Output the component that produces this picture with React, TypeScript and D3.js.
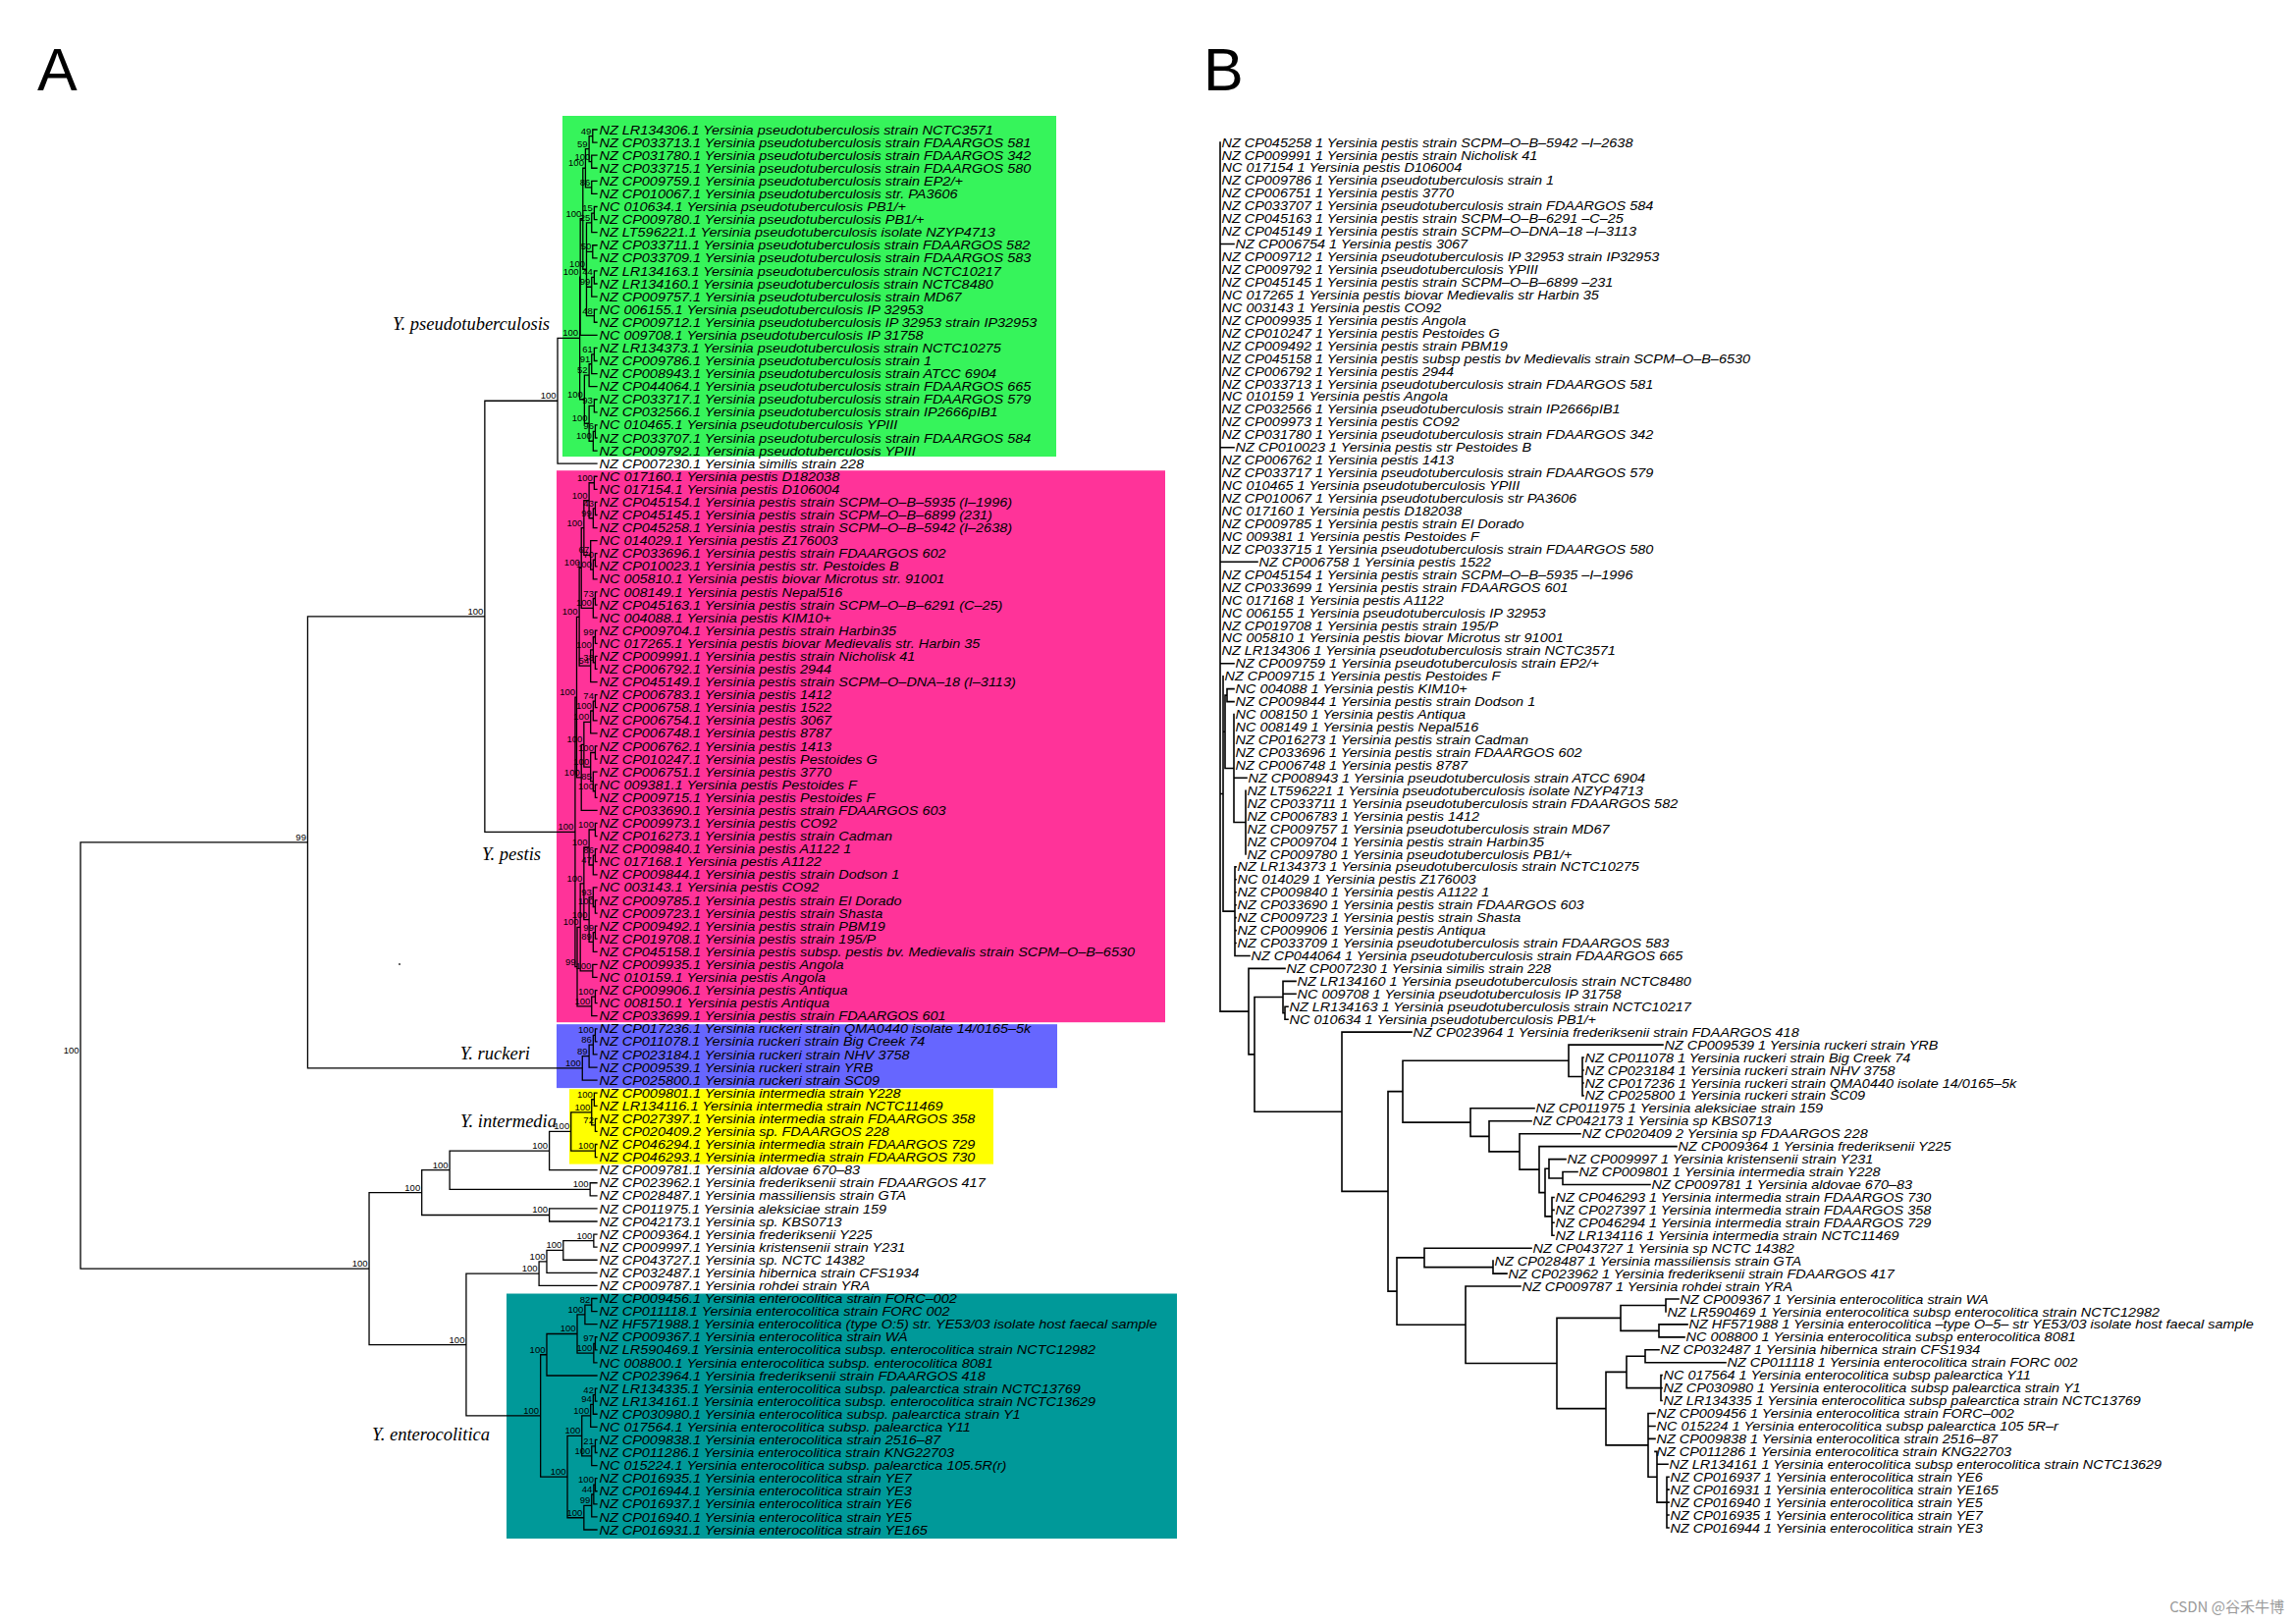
import React, { useMemo } from 'react';
import * as d3 from 'd3';

// ---------------- DATA ----------------
const LEAVES_A: string[] = [
  'NZ LR134306.1 Yersinia pseudotuberculosis strain NCTC3571',
  'NZ CP033713.1 Yersinia pseudotuberculosis strain FDAARGOS 581',
  'NZ CP031780.1 Yersinia pseudotuberculosis strain FDAARGOS 342',
  'NZ CP033715.1 Yersinia pseudotuberculosis strain FDAARGOS 580',
  'NZ CP009759.1 Yersinia pseudotuberculosis strain EP2/+',
  'NZ CP010067.1 Yersinia pseudotuberculosis str. PA3606',
  'NC 010634.1 Yersinia pseudotuberculosis PB1/+',
  'NZ CP009780.1 Yersinia pseudotuberculosis PB1/+',
  'NZ LT596221.1 Yersinia pseudotuberculosis isolate NZYP4713',
  'NZ CP033711.1 Yersinia pseudotuberculosis strain FDAARGOS 582',
  'NZ CP033709.1 Yersinia pseudotuberculosis strain FDAARGOS 583',
  'NZ LR134163.1 Yersinia pseudotuberculosis strain NCTC10217',
  'NZ LR134160.1 Yersinia pseudotuberculosis strain NCTC8480',
  'NZ CP009757.1 Yersinia pseudotuberculosis strain MD67',
  'NC 006155.1 Yersinia pseudotuberculosis IP 32953',
  'NZ CP009712.1 Yersinia pseudotuberculosis IP 32953 strain IP32953',
  'NC 009708.1 Yersinia pseudotuberculosis IP 31758',
  'NZ LR134373.1 Yersinia pseudotuberculosis strain NCTC10275',
  'NZ CP009786.1 Yersinia pseudotuberculosis strain 1',
  'NZ CP008943.1 Yersinia pseudotuberculosis strain ATCC 6904',
  'NZ CP044064.1 Yersinia pseudotuberculosis strain FDAARGOS 665',
  'NZ CP033717.1 Yersinia pseudotuberculosis strain FDAARGOS 579',
  'NZ CP032566.1 Yersinia pseudotuberculosis strain IP2666pIB1',
  'NC 010465.1 Yersinia pseudotuberculosis YPIII',
  'NZ CP033707.1 Yersinia pseudotuberculosis strain FDAARGOS 584',
  'NZ CP009792.1 Yersinia pseudotuberculosis YPIII',
  'NZ CP007230.1 Yersinia similis strain 228',
  'NC 017160.1 Yersinia pestis D182038',
  'NC 017154.1 Yersinia pestis D106004',
  'NZ CP045154.1 Yersinia pestis strain SCPM–O–B–5935 (I–1996)',
  'NZ CP045145.1 Yersinia pestis strain SCPM–O–B–6899 (231)',
  'NZ CP045258.1 Yersinia pestis strain SCPM–O–B–5942 (I–2638)',
  'NC 014029.1 Yersinia pestis Z176003',
  'NZ CP033696.1 Yersinia pestis strain FDAARGOS 602',
  'NZ CP010023.1 Yersinia pestis str. Pestoides B',
  'NC 005810.1 Yersinia pestis biovar Microtus str. 91001',
  'NC 008149.1 Yersinia pestis Nepal516',
  'NZ CP045163.1 Yersinia pestis strain SCPM–O–B–6291 (C–25)',
  'NC 004088.1 Yersinia pestis KIM10+',
  'NZ CP009704.1 Yersinia pestis strain Harbin35',
  'NC 017265.1 Yersinia pestis biovar Medievalis str. Harbin 35',
  'NZ CP009991.1 Yersinia pestis strain Nicholisk 41',
  'NZ CP006792.1 Yersinia pestis 2944',
  'NZ CP045149.1 Yersinia pestis strain SCPM–O–DNA–18 (I–3113)',
  'NZ CP006783.1 Yersinia pestis 1412',
  'NZ CP006758.1 Yersinia pestis 1522',
  'NZ CP006754.1 Yersinia pestis 3067',
  'NZ CP006748.1 Yersinia pestis 8787',
  'NZ CP006762.1 Yersinia pestis 1413',
  'NZ CP010247.1 Yersinia pestis Pestoides G',
  'NZ CP006751.1 Yersinia pestis 3770',
  'NC 009381.1 Yersinia pestis Pestoides F',
  'NZ CP009715.1 Yersinia pestis Pestoides F',
  'NZ CP033690.1 Yersinia pestis strain FDAARGOS 603',
  'NZ CP009973.1 Yersinia pestis CO92',
  'NZ CP016273.1 Yersinia pestis strain Cadman',
  'NZ CP009840.1 Yersinia pestis A1122 1',
  'NC 017168.1 Yersinia pestis A1122',
  'NZ CP009844.1 Yersinia pestis strain Dodson 1',
  'NC 003143.1 Yersinia pestis CO92',
  'NZ CP009785.1 Yersinia pestis strain El Dorado',
  'NZ CP009723.1 Yersinia pestis strain Shasta',
  'NZ CP009492.1 Yersinia pestis strain PBM19',
  'NZ CP019708.1 Yersinia pestis strain 195/P',
  'NZ CP045158.1 Yersinia pestis subsp. pestis bv. Medievalis strain SCPM–O–B–6530',
  'NZ CP009935.1 Yersinia pestis Angola',
  'NC 010159.1 Yersinia pestis Angola',
  'NZ CP009906.1 Yersinia pestis Antiqua',
  'NC 008150.1 Yersinia pestis Antiqua',
  'NZ CP033699.1 Yersinia pestis strain FDAARGOS 601',
  'NZ CP017236.1 Yersinia ruckeri strain QMA0440 isolate 14/0165–5k',
  'NZ CP011078.1 Yersinia ruckeri strain Big Creek 74',
  'NZ CP023184.1 Yersinia ruckeri strain NHV 3758',
  'NZ CP009539.1 Yersinia ruckeri strain YRB',
  'NZ CP025800.1 Yersinia ruckeri strain SC09',
  'NZ CP009801.1 Yersinia intermedia strain Y228',
  'NZ LR134116.1 Yersinia intermedia strain NCTC11469',
  'NZ CP027397.1 Yersinia intermedia strain FDAARGOS 358',
  'NZ CP020409.2 Yersinia sp. FDAARGOS 228',
  'NZ CP046294.1 Yersinia intermedia strain FDAARGOS 729',
  'NZ CP046293.1 Yersinia intermedia strain FDAARGOS 730',
  'NZ CP009781.1 Yersinia aldovae 670–83',
  'NZ CP023962.1 Yersinia frederiksenii strain FDAARGOS 417',
  'NZ CP028487.1 Yersinia massiliensis strain GTA',
  'NZ CP011975.1 Yersinia aleksiciae strain 159',
  'NZ CP042173.1 Yersinia sp. KBS0713',
  'NZ CP009364.1 Yersinia frederiksenii Y225',
  'NZ CP009997.1 Yersinia kristensenii strain Y231',
  'NZ CP043727.1 Yersinia sp. NCTC 14382',
  'NZ CP032487.1 Yersinia hibernica strain CFS1934',
  'NZ CP009787.1 Yersinia rohdei strain YRA',
  'NZ CP009456.1 Yersinia enterocolitica strain FORC–002',
  'NZ CP011118.1 Yersinia enterocolitica strain FORC 002',
  'NZ HF571988.1 Yersinia enterocolitica (type O:5) str. YE53/03 isolate host faecal sample',
  'NZ CP009367.1 Yersinia enterocolitica strain WA',
  'NZ LR590469.1 Yersinia enterocolitica subsp. enterocolitica strain NCTC12982',
  'NC 008800.1 Yersinia enterocolitica subsp. enterocolitica 8081',
  'NZ CP023964.1 Yersinia frederiksenii strain FDAARGOS 418',
  'NZ LR134335.1 Yersinia enterocolitica subsp. palearctica strain NCTC13769',
  'NZ LR134161.1 Yersinia enterocolitica subsp. enterocolitica strain NCTC13629',
  'NZ CP030980.1 Yersinia enterocolitica subsp. palearctica strain Y1',
  'NC 017564.1 Yersinia enterocolitica subsp. palearctica Y11',
  'NZ CP009838.1 Yersinia enterocolitica strain 2516–87',
  'NZ CP011286.1 Yersinia enterocolitica strain KNG22703',
  'NC 015224.1 Yersinia enterocolitica subsp. palearctica 105.5R(r)',
  'NZ CP016935.1 Yersinia enterocolitica strain YE7',
  'NZ CP016944.1 Yersinia enterocolitica strain YE3',
  'NZ CP016937.1 Yersinia enterocolitica strain YE6',
  'NZ CP016940.1 Yersinia enterocolitica strain YE5',
  'NZ CP016931.1 Yersinia enterocolitica strain YE165',
];

const LEAVES_B: string[] = [
  'NZ CP045258 1 Yersinia pestis strain SCPM–O–B–5942 –I–2638',
  'NZ CP009991 1 Yersinia pestis strain Nicholisk 41',
  'NC 017154 1 Yersinia pestis D106004',
  'NZ CP009786 1 Yersinia pseudotuberculosis strain 1',
  'NZ CP006751 1 Yersinia pestis 3770',
  'NZ CP033707 1 Yersinia pseudotuberculosis strain FDAARGOS 584',
  'NZ CP045163 1 Yersinia pestis strain SCPM–O–B–6291 –C–25',
  'NZ CP045149 1 Yersinia pestis strain SCPM–O–DNA–18 –I–3113',
  'NZ CP006754 1 Yersinia pestis 3067',
  'NZ CP009712 1 Yersinia pseudotuberculosis IP 32953 strain IP32953',
  'NZ CP009792 1 Yersinia pseudotuberculosis YPIII',
  'NZ CP045145 1 Yersinia pestis strain SCPM–O–B–6899 –231',
  'NC 017265 1 Yersinia pestis biovar Medievalis str Harbin 35',
  'NC 003143 1 Yersinia pestis CO92',
  'NZ CP009935 1 Yersinia pestis Angola',
  'NZ CP010247 1 Yersinia pestis Pestoides G',
  'NZ CP009492 1 Yersinia pestis strain PBM19',
  'NZ CP045158 1 Yersinia pestis subsp pestis bv Medievalis strain SCPM–O–B–6530',
  'NZ CP006792 1 Yersinia pestis 2944',
  'NZ CP033713 1 Yersinia pseudotuberculosis strain FDAARGOS 581',
  'NC 010159 1 Yersinia pestis Angola',
  'NZ CP032566 1 Yersinia pseudotuberculosis strain IP2666pIB1',
  'NZ CP009973 1 Yersinia pestis CO92',
  'NZ CP031780 1 Yersinia pseudotuberculosis strain FDAARGOS 342',
  'NZ CP010023 1 Yersinia pestis str Pestoides B',
  'NZ CP006762 1 Yersinia pestis 1413',
  'NZ CP033717 1 Yersinia pseudotuberculosis strain FDAARGOS 579',
  'NC 010465 1 Yersinia pseudotuberculosis YPIII',
  'NZ CP010067 1 Yersinia pseudotuberculosis str PA3606',
  'NC 017160 1 Yersinia pestis D182038',
  'NZ CP009785 1 Yersinia pestis strain El Dorado',
  'NC 009381 1 Yersinia pestis Pestoides F',
  'NZ CP033715 1 Yersinia pseudotuberculosis strain FDAARGOS 580',
  'NZ CP006758 1 Yersinia pestis 1522',
  'NZ CP045154 1 Yersinia pestis strain SCPM–O–B–5935 –I–1996',
  'NZ CP033699 1 Yersinia pestis strain FDAARGOS 601',
  'NC 017168 1 Yersinia pestis A1122',
  'NC 006155 1 Yersinia pseudotuberculosis IP 32953',
  'NZ CP019708 1 Yersinia pestis strain 195/P',
  'NC 005810 1 Yersinia pestis biovar Microtus str 91001',
  'NZ LR134306 1 Yersinia pseudotuberculosis strain NCTC3571',
  'NZ CP009759 1 Yersinia pseudotuberculosis strain EP2/+',
  'NZ CP009715 1 Yersinia pestis Pestoides F',
  'NC 004088 1 Yersinia pestis KIM10+',
  'NZ CP009844 1 Yersinia pestis strain Dodson 1',
  'NC 008150 1 Yersinia pestis Antiqua',
  'NC 008149 1 Yersinia pestis Nepal516',
  'NZ CP016273 1 Yersinia pestis strain Cadman',
  'NZ CP033696 1 Yersinia pestis strain FDAARGOS 602',
  'NZ CP006748 1 Yersinia pestis 8787',
  'NZ CP008943 1 Yersinia pseudotuberculosis strain ATCC 6904',
  'NZ LT596221 1 Yersinia pseudotuberculosis isolate NZYP4713',
  'NZ CP033711 1 Yersinia pseudotuberculosis strain FDAARGOS 582',
  'NZ CP006783 1 Yersinia pestis 1412',
  'NZ CP009757 1 Yersinia pseudotuberculosis strain MD67',
  'NZ CP009704 1 Yersinia pestis strain Harbin35',
  'NZ CP009780 1 Yersinia pseudotuberculosis PB1/+',
  'NZ LR134373 1 Yersinia pseudotuberculosis strain NCTC10275',
  'NC 014029 1 Yersinia pestis Z176003',
  'NZ CP009840 1 Yersinia pestis A1122 1',
  'NZ CP033690 1 Yersinia pestis strain FDAARGOS 603',
  'NZ CP009723 1 Yersinia pestis strain Shasta',
  'NZ CP009906 1 Yersinia pestis Antiqua',
  'NZ CP033709 1 Yersinia pseudotuberculosis strain FDAARGOS 583',
  'NZ CP044064 1 Yersinia pseudotuberculosis strain FDAARGOS 665',
  'NZ CP007230 1 Yersinia similis strain 228',
  'NZ LR134160 1 Yersinia pseudotuberculosis strain NCTC8480',
  'NC 009708 1 Yersinia pseudotuberculosis IP 31758',
  'NZ LR134163 1 Yersinia pseudotuberculosis strain NCTC10217',
  'NC 010634 1 Yersinia pseudotuberculosis PB1/+',
  'NZ CP023964 1 Yersinia frederiksenii strain FDAARGOS 418',
  'NZ CP009539 1 Yersinia ruckeri strain YRB',
  'NZ CP011078 1 Yersinia ruckeri strain Big Creek 74',
  'NZ CP023184 1 Yersinia ruckeri strain NHV 3758',
  'NZ CP017236 1 Yersinia ruckeri strain QMA0440 isolate 14/0165–5k',
  'NZ CP025800 1 Yersinia ruckeri strain SC09',
  'NZ CP011975 1 Yersinia aleksiciae strain 159',
  'NZ CP042173 1 Yersinia sp KBS0713',
  'NZ CP020409 2 Yersinia sp FDAARGOS 228',
  'NZ CP009364 1 Yersinia frederiksenii Y225',
  'NZ CP009997 1 Yersinia kristensenii strain Y231',
  'NZ CP009801 1 Yersinia intermedia strain Y228',
  'NZ CP009781 1 Yersinia aldovae 670–83',
  'NZ CP046293 1 Yersinia intermedia strain FDAARGOS 730',
  'NZ CP027397 1 Yersinia intermedia strain FDAARGOS 358',
  'NZ CP046294 1 Yersinia intermedia strain FDAARGOS 729',
  'NZ LR134116 1 Yersinia intermedia strain NCTC11469',
  'NZ CP043727 1 Yersinia sp NCTC 14382',
  'NZ CP028487 1 Yersinia massiliensis strain GTA',
  'NZ CP023962 1 Yersinia frederiksenii strain FDAARGOS 417',
  'NZ CP009787 1 Yersinia rohdei strain YRA',
  'NZ CP009367 1 Yersinia enterocolitica strain WA',
  'NZ LR590469 1 Yersinia enterocolitica subsp enterocolitica strain NCTC12982',
  'NZ HF571988 1 Yersinia enterocolitica –type O–5– str YE53/03 isolate host faecal sample',
  'NC 008800 1 Yersinia enterocolitica subsp enterocolitica 8081',
  'NZ CP032487 1 Yersinia hibernica strain CFS1934',
  'NZ CP011118 1 Yersinia enterocolitica strain FORC 002',
  'NC 017564 1 Yersinia enterocolitica subsp palearctica Y11',
  'NZ CP030980 1 Yersinia enterocolitica subsp palearctica strain Y1',
  'NZ LR134335 1 Yersinia enterocolitica subsp palearctica strain NCTC13769',
  'NZ CP009456 1 Yersinia enterocolitica strain FORC–002',
  'NC 015224 1 Yersinia enterocolitica subsp palearctica 105 5R–r',
  'NZ CP009838 1 Yersinia enterocolitica strain 2516–87',
  'NZ CP011286 1 Yersinia enterocolitica strain KNG22703',
  'NZ LR134161 1 Yersinia enterocolitica subsp enterocolitica strain NCTC13629',
  'NZ CP016937 1 Yersinia enterocolitica strain YE6',
  'NZ CP016931 1 Yersinia enterocolitica strain YE165',
  'NZ CP016940 1 Yersinia enterocolitica strain YE5',
  'NZ CP016935 1 Yersinia enterocolitica strain YE7',
  'NZ CP016944 1 Yersinia enterocolitica strain YE3',
];

// Panel A topology: leaf = index in LEAVES_A (1-based), ")label@depth" = bootstrap support and node depth (0 = root, 1 = tips)
const A_PSEUDO_UP = '((((1,2)49@.992,(3,4)100@.99)59@.985,(5,6)86@.99)100@.978,(((7,8)15@.995,9)25@.99,(10,11)50@.992,((12,13)44@.995,14)99@.99,(15,16)48@.995)100@.98)100@.973';
const A_PSEUDO_LO = '((((18,19)61@.995,20)91@.99,21)52@.985,((22,23)93@.995,((24,25)96@.997,26)100@.993)100@.985)100@.976';
const A_PEST_1 = '((28,29)100@.995,((30,31)43@.997,32)99@.993)100@.985';
const A_PEST_2 = '(33,((34,35)70@.997,36)100@.993)67@.988';
const A_PEST_3 = '((37,38)73@.997,39)100@.993';
const A_PEST_4 = '(((40,41)99@.997,(42,43)38@.997)100@.993,44)54@.988';
const A_PEST_5 = '(((45,46)74@.997,47)100@.993,48)100@.988';
const A_PEST_6 = '((49,50)100@.997,(51,(52,53)100@.997)85@.993)100@.988';
const A_PEST_7 = '((55,56)100@.997,((57,58)86@.997,59)47@.993)100@.985';
const A_PEST_8 = '((60,(61,62)100@.997)93@.993,((63,64)99@.997,65)89@.993)100@.985';
const A_PEST_9 = '(66,67)100@.992';
const A_PEST_10 = '((68,69)100@.997,70)100@.99';
const A_RUCKERI = '((((71,72)100@.997,73)86@.993,74)89@.985,75)100@.972';
const A_INTERMEDIA = '(((76,77)100@.995,(78,79)72@.997)100@.99,(80,81)100@.997)100@.95';
const A_HIB = '((((87,88)100@.994,89)100@.935,90)100@.903,91)100@.888';
const A_ENT_1 = '((((92,93)82@.99,94)100@.977,((95,96)97@.997,97)100@.994)100@.962,98)100@.903';
const A_ENT_2 = '(((((99,100)42@.997,101)94@.993,102)100@.988,((103,104)21@.997,105)100@.99)100@.971,((((106,107)100@.997,108)44@.994,109)99@.99,110)100@.975)100@.943';

const A_PEST = `(((((${A_PEST_1},${A_PEST_2})100@.975,${A_PEST_3})100@.97,${A_PEST_4})100@.966,((${A_PEST_5},${A_PEST_6})100@.975,54)100@.97)100@.961,(((${A_PEST_7},${A_PEST_8})100@.975,${A_PEST_9})100@.968,${A_PEST_10})99@.962)100@.958`;
const A_UPPER = `(((((${A_PSEUDO_UP},17)100@.968,${A_PSEUDO_LO})100@.967,27)100@.924,${A_PEST})100@.783,${A_RUCKERI})99@.44`;
const A_LOWER = `((((${A_INTERMEDIA},82)100@.908,(83,84)100@.987)100@.715,(85,86)100@.908)100@.661,(${A_HIB},(${A_ENT_1},${A_ENT_2})100@.891)100@.747)100@.559`;
const TREE_A = `(${A_UPPER},${A_LOWER})100@0`;

// Panel B topology with node / tip depths (branch-length units)
const B_CLUSTER_1 = '(1@0,2@0,3@0,4@0,5@0,6@0,7@0,8@0,9@.014,10@0,11@0,12@0,13@0,14@0,15@0,16@0,17@0,18@0,19@0,20@0,21@0,22@0,23@0,24@0,25@.014,26@0,27@0,28@0,29@0,30@0,31@0,32@0,33@0,34@.038,35@0,36@0,37@0,38@0,39@0,40@0,41@0,42@.014,' +
  '(43@.003,((44@.014,45@.014)@.007,(46@.014,47@.014,48@.014,49@.014,50@.014,51@.027,(52@.026,53@.026,54@.026,55@.026,56@.026,57@.026)@.026)@.014)@.005,(58@.016,59@.016,60@.016,61@.016,62@.016,63@.016,64@.016,65@.03)@.015)@.003)@0';
const B_RUCKERI_ETC = '((72@.451,(73@.37,74@.37,75@.37,76@.37)@.369)@.355,(77@.32,(78@.317,(79@.367,(80@.465,((81@.352,(82@.364,83@.438)@.349)@.335,(84@.34,85@.34,86@.34,87@.34)@.338)@.331)@.325)@.305)@.274)@.255)@.186';
const B_ENTERO = '(((92@.467,93@.454)@.454,(94@.476,95@.473)@.447)@.408,(((96@.447,97@.515)@.433,(98@.45,99@.45,100@.45)@.449)@.414,(101@.443,102@.443,103@.443,(104@.443,105@.456,(106@.457,107@.457,108@.457,109@.457,110@.457)@.455)@.445)@.436)@.393)@.343';
const B_LOWER = `(66@.066,((67@.077,68@.077,(69@.069,70@.069)@.066)@.064,(71@.195,(${B_RUCKERI_ETC},((88@.317,(89@.278,90@.292)@.278)@.208,(91@.306,${B_ENTERO})@.25)@.18)@.171)@.124)@.035)@.029`;
const TREE_B = `(${B_CLUSTER_1},${B_LOWER})@0`;

const SPECIES: string[] = ['Y. pseudotuberculosis', 'Y. pestis', 'Y. ruckeri', 'Y. intermedia', 'Y. enterocolitica'];
const CLADE_FIRST: number[] = [1, 28, 71, 76, 92];
const CLADE_LAST: number[] = [26, 70, 75, 81, 110];
const CLADE_COLORS: string[] = ['#36F45B', '#FF3399', '#6666FF', '#FFFF00', '#009999'];

// ---------------- LAYOUT / STYLE ----------------
const W = 2339;
const H = 1654;
const SANS = "'Liberation Sans', Arial, Helvetica, sans-serif";
const SERIF = "'Liberation Serif', 'Times New Roman', serif";
const LEAF_FONT = 12.8;
const LEAF_STRETCH = 1.13;

const BOX_X: [number, number][] = [[573, 1076], [567, 1187], [567, 1077], [580, 1012], [516, 1199]];
const BOX_PAD: [number, number][] = [[14, 6], [6, 6.5], [4.6, 8], [4, 7], [5, 9]];
const SPECIES_POS: [number, number][] = [[560, 336], [551, 876], [540, 1079], [567, 1148], [499, 1467]];

type PNode = { children?: PNode[]; leaf?: number; label: string; depth: number };

function parseTree(src: string, tipDepth: number): PNode {
  const s = src.replace(/\s+/g, '');
  let i = 0;
  const readWhile = (re: RegExp) => {
    let t = '';
    while (i < s.length && re.test(s[i])) t += s[i++];
    return t;
  };
  const node = (): PNode => {
    const n: PNode = { label: '', depth: tipDepth };
    if (s[i] === '(') {
      i++;
      n.children = [];
      for (;;) {
        n.children.push(node());
        if (s[i] === ',') { i++; continue; }
        if (s[i] === ')') { i++; break; }
        throw new Error('bad tree at ' + i + ' ' + s.slice(i - 10, i + 10));
      }
      n.label = readWhile(/[0-9A-Za-z]/);
    } else {
      n.leaf = +readWhile(/[0-9]/);
    }
    if (s[i] === '@') {
      i++;
      n.depth = +readWhile(/[0-9.]/);
    }
    return n;
  };
  return node();
}

function layoutTree(tree: PNode, x: d3.ScaleLinear<number, number>, y: d3.ScaleLinear<number, number>) {
  const root = d3.hierarchy<PNode>(tree, (d) => d.children);
  const ys = new Map<any, number>();
  root.eachAfter((n) => {
    if (!n.children) ys.set(n, y((n.data.leaf as number) - 1));
    else ys.set(n, (ys.get(n.children[0])! + ys.get(n.children[n.children.length - 1])!) / 2);
  });
  const p = d3.path();
  const supports: { x: number; y: number; t: string }[] = [];
  const tips: { x: number; y: number; leaf: number }[] = [];
  root.each((n) => {
    const nx = x(n.data.depth);
    const ny = ys.get(n)!;
    if (n.children) {
      p.moveTo(nx, ys.get(n.children[0])!);
      p.lineTo(nx, ys.get(n.children[n.children.length - 1])!);
      for (const c of n.children) {
        const cy = ys.get(c)!;
        p.moveTo(nx, cy);
        p.lineTo(x(c.data.depth), cy);
      }
      if (n.data.label) supports.push({ x: nx, y: ny, t: n.data.label });
    } else {
      tips.push({ x: nx, y: ny, leaf: n.data.leaf as number });
    }
  });
  return { path: p.toString(), supports, tips };
}

export default function App() {
  const A = useMemo(() => {
    const x = d3.scaleLinear().domain([0, 1]).range([82, 608]);
    const y = d3.scaleLinear().domain([0, LEAVES_A.length - 1]).range([132, 1558]);
    return { ...layoutTree(parseTree(TREE_A, 1), x, y), x, y };
  }, []);
  const B = useMemo(() => {
    const x = d3.scaleLinear().domain([0, 0.5]).range([1243, 1743]);
    const y = d3.scaleLinear().domain([0, LEAVES_B.length - 1]).range([145, 1556]);
    return { ...layoutTree(parseTree(TREE_B, 0), x, y), x, y };
  }, []);

  return (
    <svg width={W} height={H} viewBox={`0 0 ${W} ${H}`} style={{ position: 'absolute', left: 0, top: 0, background: '#fff' }}>
      <rect x={0} y={0} width={W} height={H} fill="#fff" />
      <text x={38} y={92} fontFamily={SANS} fontSize={61}>A</text>
      <text x={1226} y={92} fontFamily={SANS} fontSize={61}>B</text>

      {CLADE_COLORS.map((c, k) => {
        const top = A.y(CLADE_FIRST[k] - 1) - BOX_PAD[k][0];
        const bot = A.y(CLADE_LAST[k] - 1) + BOX_PAD[k][1];
        return <rect key={k} x={BOX_X[k][0]} y={top} width={BOX_X[k][1] - BOX_X[k][0]} height={bot - top} fill={c} />;
      })}

      <path d={A.path} fill="none" stroke="#000" strokeWidth={1.3} strokeLinecap="square" />
      <g fontFamily={SANS} fontSize={9.5} textAnchor="end" fill="#000">
        {A.supports.map((s, k) => (
          <text key={k} x={s.x - 1.5} y={s.y - 2}>{s.t}</text>
        ))}
      </g>
      <g fontFamily={SANS} fontSize={LEAF_FONT} fontStyle="italic" fill="#000">
        {A.tips.map((t) => (
          <text key={t.leaf} transform={`translate(${t.x + 2.5},${t.y + 4.6}) scale(${LEAF_STRETCH},1)`}>{LEAVES_A[t.leaf - 1]}</text>
        ))}
      </g>
      <g fontFamily={SERIF} fontSize={18.5} fontStyle="italic" textAnchor="end" fill="#000">
        {SPECIES.map((s, k) => (
          <text key={s} x={SPECIES_POS[k][0]} y={SPECIES_POS[k][1]}>{s}</text>
        ))}
      </g>
      <circle cx={407} cy={982} r={1.1} fill="#444" />

      <path d={B.path} fill="none" stroke="#000" strokeWidth={1.6} strokeLinecap="square" />
      <g fontFamily={SANS} fontSize={LEAF_FONT} fontStyle="italic" fill="#000">
        {B.tips.map((t) => (
          <text key={t.leaf} transform={`translate(${t.x + 1.5},${t.y + 4.6}) scale(${LEAF_STRETCH},1)`}>{LEAVES_B[t.leaf - 1]}</text>
        ))}
      </g>

      <text x={2327} y={1642} textAnchor="end" fontFamily="'Noto Sans CJK SC', sans-serif" fontSize={15} fill="#9a9a9a">CSDN @谷禾牛博</text>
    </svg>
  );
}
